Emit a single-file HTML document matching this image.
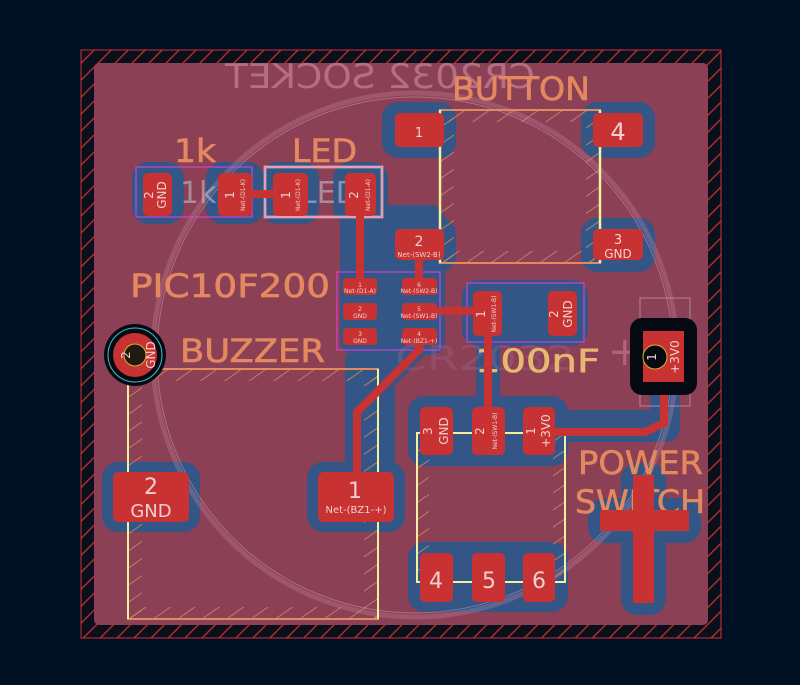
<!DOCTYPE html>
<html><head><meta charset="utf-8"><style>
html,body{margin:0;padding:0;background:#001023;}
svg{display:block}
text{font-family:"DejaVu Sans","Liberation Sans",sans-serif}
</style></head><body>
<svg width="800" height="685" viewBox="0 0 800 685" xmlns="http://www.w3.org/2000/svg">
<defs>
<pattern id="h" width="12" height="12" patternUnits="userSpaceOnUse" patternTransform="rotate(-45)">
<rect width="12" height="12" fill="#0a0f1c"/><line x1="0" y1="6" x2="12" y2="6" stroke="#c43030" stroke-width="1.3"/></pattern>
<pattern id="hs" width="14" height="14" patternUnits="userSpaceOnUse" patternTransform="rotate(-35)">
<line x1="0" y1="7" x2="14" y2="7" stroke="#d9905f" stroke-width="1" opacity="0.75"/></pattern>
</defs>
<rect width="800" height="685" fill="#001023"/>
<rect x="81" y="50" width="640" height="588" fill="url(#h)" stroke="#d03030" stroke-width="1"/>
<rect x="94" y="63" width="614" height="562" rx="5" fill="#8b4056"/>

<!-- blue clearances -->
<g fill="#335687">
<rect x="132" y="162" width="52" height="62" rx="16"/>
<rect x="206" y="162" width="58" height="62" rx="16"/>
<rect x="261" y="162" width="58" height="62" rx="16"/>
<rect x="333" y="162" width="55" height="62" rx="16"/>
<rect x="340" y="205" width="105" height="150" rx="14"/>
<rect x="382" y="102" width="74" height="56" rx="16"/>
<rect x="581" y="102" width="74" height="56" rx="16"/>
<rect x="382" y="218" width="74" height="54" rx="16"/>
<rect x="581" y="218" width="74" height="54" rx="16"/>
<rect x="462" y="280" width="126" height="66" rx="16"/>
<path d="M345,355 L345,470 L395,470 L395,385 L430,350 Z"/>
<rect x="307" y="462" width="98" height="70" rx="16"/>
<rect x="102" y="462" width="98" height="70" rx="16"/>
<rect x="408" y="396" width="160" height="70" rx="16"/>
<rect x="476" y="340" width="24" height="70"/>
<rect x="408" y="542" width="160" height="70" rx="16"/>
<rect x="555" y="410" width="125" height="32" rx="14"/>
<rect x="650" y="380" width="30" height="50"/>
<rect x="588" y="498" width="113" height="45" rx="16"/>
<rect x="621" y="463" width="45" height="152" rx="16"/>
</g>

<!-- CR2032 circle -->
<circle cx="415" cy="355" r="262" fill="none" stroke="#c98aa0" stroke-width="5" opacity="0.3"/>
<circle cx="415" cy="355" r="258" fill="none" stroke="#d8a8c0" stroke-width="1" opacity="0.45"/>

<!-- silkscreen hatching strips -->
<g fill="url(#hs)">
<rect x="440" y="110" width="14" height="153"/><rect x="586" y="110" width="14" height="153"/>
<rect x="440" y="110" width="160" height="12"/><rect x="440" y="251" width="160" height="12"/>
<rect x="128" y="369" width="14" height="250"/><rect x="364" y="369" width="14" height="250"/>
<rect x="128" y="369" width="250" height="12"/><rect x="128" y="607" width="250" height="12"/>
<rect x="417" y="433" width="12" height="149"/><rect x="553" y="433" width="12" height="149"/>
</g>
<rect x="440" y="110" width="160" height="153" fill="none" stroke="#e08a60" stroke-width="2"/>
<rect x="128" y="369" width="250" height="250" fill="none" stroke="#e08a60" stroke-width="2"/>
<rect x="417" y="433" width="148" height="149" fill="none" stroke="#e08a60" stroke-width="1.5"/>
<path d="M440,110 V263" stroke="#f4f0a0" stroke-width="2.5"/>
<path d="M600,110 V263" stroke="#f4f0a0" stroke-width="2.5"/>
<path d="M417,433 H565 V582 H417 Z" fill="none" stroke="#f4f0a0" stroke-width="2"/>
<path d="M128,369 V619 M378,369 V619" stroke="#f4f0a0" stroke-width="2"/>
<rect x="265" y="167" width="117" height="50" fill="none" stroke="#f4f0a0" stroke-width="2.5"/>
<rect x="136" y="167" width="116" height="50" fill="none" stroke="#e040e0" stroke-width="1"/>
<rect x="265" y="167" width="117" height="50" fill="none" stroke="#e040e0" stroke-width="1"/>
<rect x="337" y="272" width="103" height="78" fill="none" stroke="#e040e0" stroke-width="1"/>
<rect x="467" y="283" width="117" height="59" fill="none" stroke="#e040e0" stroke-width="1"/>
<rect x="640" y="298" width="50" height="108" fill="none" stroke="#b890a8" stroke-width="1.5" opacity="0.6"/>

<!-- texts faded -->
<text x="380" y="88" font-size="34" fill="#c47f92" transform="scale(-1,1) translate(-760,0)" text-anchor="middle" textLength="310" lengthAdjust="spacingAndGlyphs" opacity="0.75">CR2032 SOCKET</text>
<text x="395" y="370" font-size="34" fill="#a0668a" opacity="0.35" textLength="180" lengthAdjust="spacingAndGlyphs">CR2032</text>
<text x="608" y="365" font-size="40" fill="#c47f92" opacity="0.6">+</text>

<!-- texts orange -->
<g fill="#e4895f" stroke="#e4895f" stroke-width="0.6" font-size="32">
<text x="452" y="100" textLength="138" lengthAdjust="spacingAndGlyphs">BUTTON</text>
<text x="174" y="162" textLength="42" lengthAdjust="spacingAndGlyphs">1k</text>
<text x="292" y="162" textLength="65" lengthAdjust="spacingAndGlyphs">LED</text>
<text x="130" y="297" textLength="200" lengthAdjust="spacingAndGlyphs">PIC10F200</text>
<text x="180" y="362" textLength="145" lengthAdjust="spacingAndGlyphs">BUZZER</text>
<text x="475" y="372" textLength="125" lengthAdjust="spacingAndGlyphs" fill="#e8b870" stroke="#e8b870">100nF</text>
<text x="578" y="474" textLength="125" lengthAdjust="spacingAndGlyphs">POWER</text>
<text x="575" y="513" textLength="130" lengthAdjust="spacingAndGlyphs">SWITCH</text>
</g>
<text x="180" y="203" font-size="30" fill="#c8c8d0" opacity="0.55">1k</text>
<text x="300" y="203" font-size="30" fill="#c8c8d0" opacity="0.55">LED</text>

<!-- traces -->
<g stroke="#c83232" stroke-width="8" fill="none" stroke-linecap="round">
<path d="M235,194 H290"/>
<path d="M360,195 V285"/>
<path d="M419,245 V285"/>
<path d="M419,311 H488"/>
<path d="M488,311 V430"/>
<path d="M419,336 V350 L357,412 V495"/>
<path d="M664,356 V423 L645,432 H539"/>
</g>
<path d="M633,475 H654 V510 H689 V531 H654 V603 H633 V531 H600 V510 H633 Z" fill="#c83232"/>

<!-- pads -->
<g fill="#c83232">
<rect x="143" y="173" width="29" height="43" rx="5"/>
<rect x="218" y="173" width="34" height="43" rx="5"/>
<rect x="273" y="173" width="35" height="43" rx="5"/>
<rect x="345" y="173" width="31" height="43" rx="5"/>
<rect x="395" y="113" width="49" height="34" rx="5"/>
<rect x="593" y="113" width="50" height="34" rx="5"/>
<rect x="395" y="229" width="49" height="31" rx="5"/>
<rect x="593" y="229" width="50" height="31" rx="5"/>
<rect x="343" y="278" width="34" height="17" rx="4"/>
<rect x="343" y="303" width="34" height="17" rx="4"/>
<rect x="343" y="328" width="34" height="17" rx="4"/>
<rect x="402" y="278" width="35" height="17" rx="4"/>
<rect x="402" y="303" width="35" height="17" rx="4"/>
<rect x="402" y="328" width="35" height="17" rx="4"/>
<rect x="473" y="291" width="29" height="45" rx="5"/>
<rect x="548" y="291" width="29" height="45" rx="5"/>
<rect x="420" y="407" width="33" height="48" rx="5"/>
<rect x="472" y="407" width="33" height="48" rx="5"/>
<rect x="523" y="407" width="32" height="48" rx="5"/>
<rect x="420" y="553" width="33" height="49" rx="5"/>
<rect x="472" y="553" width="33" height="49" rx="5"/>
<rect x="523" y="553" width="32" height="49" rx="5"/>
<rect x="318" y="472" width="76" height="50" rx="6"/>
<rect x="113" y="472" width="76" height="50" rx="6"/>
</g>
<rect x="630" y="318" width="67" height="77" rx="12" fill="#050a12"/>
<rect x="643" y="331" width="41" height="51" fill="#c83232"/>
<circle cx="655" cy="357" r="12" fill="#050a12" stroke="#d8b030" stroke-width="1"/>
<circle cx="135" cy="355" r="31" fill="#050a12"/>
<circle cx="135" cy="355" r="27" fill="none" stroke="#40c0d0" stroke-width="1"/>
<circle cx="135" cy="355" r="22" fill="#c83232"/>
<circle cx="135" cy="355" r="11" fill="#201a10" stroke="#d8b030" stroke-width="1"/>

<!-- pad labels -->
<g fill="#f0d0d0" text-anchor="middle">
<text x="419" y="137" font-size="13">1</text>
<text x="618" y="140" font-size="24">4</text>
<text x="419" y="246" font-size="14">2</text>
<text x="419" y="257" font-size="7">Net-(SW2-B)</text>
<text x="618" y="244" font-size="13">3</text>
<text x="618" y="258" font-size="12">GND</text>
<text x="355" y="498" font-size="22">1</text>
<text x="356" y="513" font-size="10">Net-(BZ1-+)</text>
<text x="151" y="494" font-size="22">2</text>
<text x="151" y="517" font-size="18">GND</text>
<text x="436" y="588" font-size="22">4</text>
<text x="489" y="588" font-size="22">5</text>
<text x="539" y="588" font-size="22">6</text>
<g font-size="6">
<text x="360" y="287">1</text><text x="360" y="293">Net-(D1-A)</text>
<text x="360" y="311">2</text><text x="360" y="318">GND</text>
<text x="360" y="336">3</text><text x="360" y="343">GND</text>
<text x="419" y="287">6</text><text x="419" y="293">Net-(SW2-B)</text>
<text x="419" y="311">5</text><text x="419" y="318">Net-(SW1-B)</text>
<text x="419" y="336">4</text><text x="419" y="343">Net-(BZ1-+)</text>
</g>
<g font-size="12">
<text transform="translate(153,195) rotate(-90)">2</text>
<text transform="translate(166,195) rotate(-90)">GND</text>
<text transform="translate(234,195) rotate(-90)">1</text>
<text transform="translate(290,195) rotate(-90)">1</text>
<text transform="translate(358,195) rotate(-90)">2</text>
<text transform="translate(485,314) rotate(-90)">1</text>
<text transform="translate(558,314) rotate(-90)">2</text>
<text transform="translate(572,314) rotate(-90)">GND</text>
<text transform="translate(432,431) rotate(-90)">3</text>
<text transform="translate(448,431) rotate(-90)">GND</text>
<text transform="translate(484,431) rotate(-90)">2</text>
<text transform="translate(535,431) rotate(-90)">1</text>
<text transform="translate(550,431) rotate(-90)">+3V0</text>
<text transform="translate(656,357) rotate(-90)">1</text>
<text transform="translate(679,357) rotate(-90)">+3V0</text>
<text transform="translate(130,355) rotate(-90)">2</text>
<text transform="translate(155,355) rotate(-90)">GND</text>
</g>
<g font-size="6">
<text transform="translate(245,195) rotate(-90)">Net-(D1-K)</text>
<text transform="translate(300,195) rotate(-90)">Net-(D1-K)</text>
<text transform="translate(370,195) rotate(-90)">Net-(D1-A)</text>
<text transform="translate(496,314) rotate(-90)">Net-(SW1-B)</text>
<text transform="translate(497,431) rotate(-90)">Net-(SW1-B)</text>
</g>
</g>
</svg>
</body></html>
